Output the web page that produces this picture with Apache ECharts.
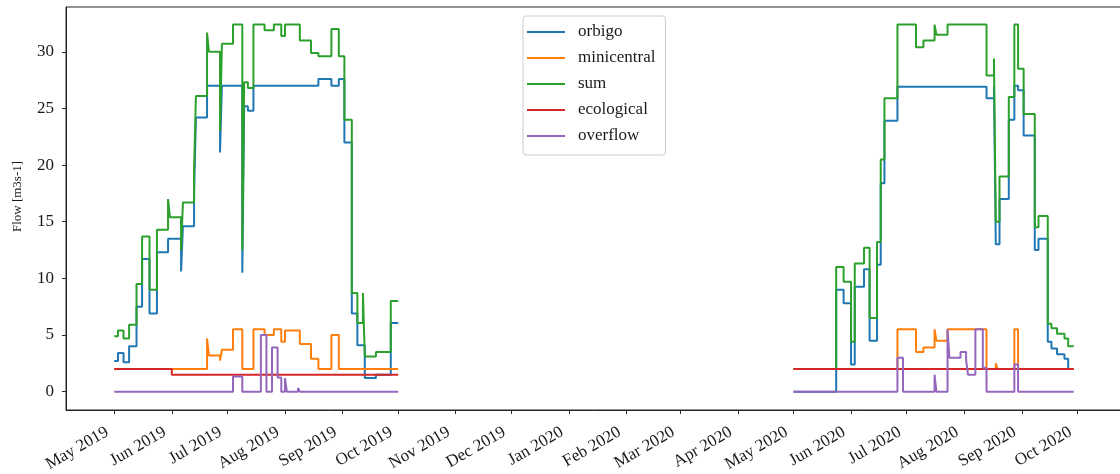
<!DOCTYPE html>
<html lang="en">
  <head>
    <meta charset="UTF-8" />
    <meta name="viewport" content="width=device-width, initial-scale=1.0" />
    <title>Flow</title>
    <style>
      html,
      body {
        margin: 0;
        padding: 0;
        background: #fff;
      }
    </style>
  </head>
  <body>
    <div id="main" style="width: 1120px; height: 474px"></div>

    <script src="https://cdn.jsdelivr.net/npm/echarts@6.0.0/dist/echarts.min.js"></script>
    <script>
      // =====数据=====
      const seriesNames = ['orbigo', 'minicentral', 'sum', 'ecological', 'overflow']
      const monthNames = ['Jan', 'Feb', 'Mar', 'Apr', 'May', 'Jun', 'Jul', 'Aug', 'Sep', 'Oct', 'Nov', 'Dec']
      const monthTicks = [
        '2019-05-01', '2019-06-01', '2019-07-01', '2019-08-01', '2019-09-01', '2019-10-01',
        '2019-11-01', '2019-12-01', '2020-01-01', '2020-02-01', '2020-03-01', '2020-04-01',
        '2020-05-01', '2020-06-01', '2020-07-01', '2020-08-01', '2020-09-01', '2020-10-01'
      ]
      const yTicks = [0, 5, 10, 15, 20, 25, 30]

      // each row: [date the value starts, value]
      const orbigo2019 = [
        ['2019-05-01', 2.7], ['2019-05-03', 3.4], ['2019-05-06', 2.6], ['2019-05-09', 4.0],
        ['2019-05-13', 7.5], ['2019-05-16', 11.7], ['2019-05-20', 6.9], ['2019-05-24', 12.3],
        ['2019-05-30', 13.5], ['2019-06-06', 10.6], ['2019-06-07', 14.6], ['2019-06-13', 17.5],
        ['2019-06-14', 24.2], ['2019-06-20', 27.0], ['2019-06-27', 21.1], ['2019-06-28', 27.0],
        ['2019-07-09', 10.5], ['2019-07-10', 25.2], ['2019-07-12', 24.8], ['2019-07-15', 27.0],
        ['2019-08-19', 27.6], ['2019-08-26', 27.0], ['2019-08-30', 27.6], ['2019-09-02', 22.0],
        ['2019-09-06', 6.9], ['2019-09-09', 4.1], ['2019-09-13', 1.2], ['2019-09-19', 1.5],
        ['2019-09-27', 6.05], ['2019-10-01', 6.05]
      ]
      const orbigo2020 = [
        ['2020-05-01', 0], ['2020-05-24', 9.0], ['2020-05-28', 7.8], ['2020-06-01', 2.4],
        ['2020-06-03', 9.25], ['2020-06-08', 10.8], ['2020-06-11', 4.5], ['2020-06-15', 11.2],
        ['2020-06-17', 18.4], ['2020-06-19', 23.9], ['2020-06-26', 26.9], ['2020-08-13', 25.9],
        ['2020-08-17', 27.0], ['2020-08-18', 13.0], ['2020-08-20', 17.0], ['2020-08-25', 24.0],
        ['2020-08-28', 27.0], ['2020-08-30', 26.6], ['2020-09-02', 22.6], ['2020-09-08', 12.5],
        ['2020-09-10', 13.5], ['2020-09-15', 4.4], ['2020-09-17', 3.8], ['2020-09-20', 3.3],
        ['2020-09-24', 2.9], ['2020-09-26', 2.0], ['2020-09-29', 2.0]
      ]

      const mini2019 = [
        ['2019-05-01', 2.0], ['2019-06-20', 4.7], ['2019-06-21', 3.2], ['2019-06-27', 2.75],
        ['2019-06-28', 3.7], ['2019-07-04', 5.5], ['2019-07-09', 2.0], ['2019-07-15', 5.5],
        ['2019-07-21', 5.0], ['2019-07-26', 5.5], ['2019-07-30', 4.4], ['2019-08-01', 5.4],
        ['2019-08-09', 4.2], ['2019-08-15', 2.9], ['2019-08-19', 2.0], ['2019-08-26', 5.0],
        ['2019-08-30', 2.0], ['2019-10-01', 2.0]
      ]
      const mini2020 = [
        ['2020-05-01', 2.0], ['2020-06-26', 5.5], ['2020-07-06', 3.5], ['2020-07-10', 3.9],
        ['2020-07-16', 5.5], ['2020-07-17', 4.5], ['2020-07-23', 5.5], ['2020-08-13', 2.0],
        ['2020-08-18', 2.5], ['2020-08-19', 2.0], ['2020-08-28', 5.5], ['2020-08-30', 2.0],
        ['2020-09-29', 2.0]
      ]

      const sum2019 = [
        ['2019-05-01', 4.9], ['2019-05-03', 5.4], ['2019-05-06', 4.7], ['2019-05-09', 5.9],
        ['2019-05-13', 9.5], ['2019-05-16', 13.7], ['2019-05-20', 9.0], ['2019-05-24', 14.3],
        ['2019-05-30', 17.0], ['2019-05-31', 15.4], ['2019-06-06', 12.5], ['2019-06-07', 16.7],
        ['2019-06-13', 19.5], ['2019-06-14', 26.1], ['2019-06-20', 31.7], ['2019-06-21', 30.0],
        ['2019-06-27', 23.0], ['2019-06-28', 30.7], ['2019-07-04', 32.4], ['2019-07-09', 12.5],
        ['2019-07-10', 27.3], ['2019-07-12', 26.8], ['2019-07-15', 32.4], ['2019-07-21', 31.9],
        ['2019-07-26', 32.4], ['2019-07-30', 31.4], ['2019-08-01', 32.4], ['2019-08-09', 31.0],
        ['2019-08-15', 29.9], ['2019-08-19', 29.6], ['2019-08-26', 32.0], ['2019-08-30', 29.6],
        ['2019-09-02', 24.0], ['2019-09-06', 8.7], ['2019-09-09', 6.05], ['2019-09-12', 8.7],
        ['2019-09-13', 3.1], ['2019-09-19', 3.5], ['2019-09-27', 8.0], ['2019-10-01', 8.0]
      ]
      const sum2020 = [
        ['2020-05-01', 2.0], ['2020-05-24', 11.0], ['2020-05-28', 9.7], ['2020-06-01', 4.4],
        ['2020-06-03', 11.3], ['2020-06-08', 12.7], ['2020-06-11', 6.5], ['2020-06-15', 13.2],
        ['2020-06-17', 20.5], ['2020-06-19', 25.9], ['2020-06-26', 32.4], ['2020-07-06', 30.4],
        ['2020-07-10', 31.0], ['2020-07-16', 32.4], ['2020-07-17', 31.5], ['2020-07-23', 32.4],
        ['2020-08-13', 27.9], ['2020-08-17', 29.4], ['2020-08-18', 15.0], ['2020-08-20', 19.0],
        ['2020-08-25', 26.0], ['2020-08-28', 32.4], ['2020-08-30', 28.5], ['2020-09-02', 24.5],
        ['2020-09-08', 14.5], ['2020-09-10', 15.5], ['2020-09-15', 6.0], ['2020-09-17', 5.6],
        ['2020-09-20', 5.1], ['2020-09-24', 4.7], ['2020-09-26', 4.0], ['2020-09-29', 4.0]
      ]

      const eco2019 = [['2019-05-01', 2.0], ['2019-06-01', 1.5], ['2019-10-01', 1.5]]
      const eco2020 = [['2020-05-01', 2.0], ['2020-09-29', 2.0]]

      const overflow2019 = [
        ['2019-05-01', 0], ['2019-07-04', 1.33], ['2019-07-09', 0], ['2019-07-19', 5.0],
        ['2019-07-22', 0], ['2019-07-25', 3.9], ['2019-07-28', 1.25], ['2019-07-30', 0],
        ['2019-08-01', 1.2], ['2019-08-02', 0], ['2019-08-08', 0.33], ['2019-08-09', 0],
        ['2019-10-01', 0]
      ]
      const overflow2020 = [
        ['2020-05-01', 0], ['2020-06-26', 3.0], ['2020-06-29', 0], ['2020-07-16', 1.5],
        ['2020-07-17', 0], ['2020-07-23', 5.5], ['2020-07-24', 3.0], ['2020-07-30', 3.5],
        ['2020-08-02', 2.8], ['2020-08-03', 1.5], ['2020-08-07', 5.5], ['2020-08-11', 2.1],
        ['2020-08-13', 0], ['2020-08-28', 2.4], ['2020-08-30', 0], ['2020-09-29', 0]
      ]
      // =====数据=====

      window.onload = function () {
        const myChart = echarts.init(document.getElementById('main'))

        // 'YYYY-MM-DD' -> local timestamp
        const toTime = s => {
          const p = s.split('-').map(Number)
          return new Date(p[0], p[1] - 1, p[2]).getTime()
        }
        const toPoints = rows => rows.map(r => [toTime(r[0]), r[1]])

        // one [2019, 2020] pair per legend name, same order as seriesNames
        const seasons = [
          [orbigo2019, orbigo2020],
          [mini2019, mini2020],
          [sum2019, sum2020],
          [eco2019, eco2020],
          [overflow2019, overflow2020]
        ]
        const palette = ['#1f77b4', '#ff7f0e', '#2ca02c', '#d62728', '#9467bd']

        const font = 'Liberation Serif'
        const textColor = '#1a1a1a'
        const tickTimes = monthTicks.map(toTime)

        // each season is its own series; both share the legend name
        const series = []
        seriesNames.forEach((name, i) => {
          seasons[i].forEach(rows => {
            series.push({
              name: name,
              type: 'line',
              step: 'end',
              showSymbol: false,
              itemStyle: { color: palette[i] },
              lineStyle: { width: 2, color: palette[i] },
              data: toPoints(rows)
            })
          })
        })

        const option = {
          animation: false,
          grid: {
            left: 66,
            top: 7,
            right: -2,
            bottom: 64,
            outerBoundsMode: 'none',
            show: true,
            borderColor: '#262626',
            borderWidth: 1
          },
          legend: {
            orient: 'vertical',
            left: 523,
            top: 16,
            padding: [7, 10, 10, 4],
            itemWidth: 38,
            itemHeight: 2,
            itemGap: 8,
            icon: 'rect',
            backgroundColor: 'rgba(255,255,255,0.8)',
            borderColor: '#cccccc',
            borderWidth: 1,
            borderRadius: 3,
            data: seriesNames,
            textStyle: {
              fontFamily: font,
              fontSize: 17,
              color: textColor,
              lineHeight: 18,
              padding: [0, 0, 0, 8]
            }
          },
          // dates as timestamps on a value axis, labelled on the 1st of each month
          xAxis: {
            type: 'value',
            min: toTime('2019-04-05'),
            max: toTime('2020-10-25'),
            splitLine: { show: false },
            axisLine: { onZero: false, lineStyle: { color: '#262626', width: 1 } },
            axisTick: {
              customValues: tickTimes,
              length: 4,
              lineStyle: { color: '#262626' }
            },
            axisLabel: {
              customValues: tickTimes,
              rotate: 30,
              margin: 17,
              padding: [0, 8, 0, 0],
              fontFamily: font,
              fontSize: 17,
              color: textColor,
              formatter: function (v) {
                const d = new Date(v)
                return monthNames[d.getMonth()] + ' ' + d.getFullYear()
              }
            }
          },
          yAxis: {
            type: 'value',
            min: -1.62,
            max: 33.95,
            name: 'Flow [m3s-1]',
            nameLocation: 'middle',
            nameGap: 42,
            nameTextStyle: {
              fontFamily: font,
              fontSize: 13,
              color: textColor,
              padding: [0, 0, 0, 24]
            },
            splitLine: { show: false },
            axisLine: { show: true, onZero: false, lineStyle: { color: '#262626', width: 1 } },
            axisTick: {
              show: true,
              customValues: yTicks,
              length: 4,
              lineStyle: { color: '#262626' }
            },
            axisLabel: {
              customValues: yTicks,
              margin: 12,
              fontFamily: font,
              fontSize: 17,
              color: textColor
            }
          },
          series: series
        }

        myChart.setOption(option)
      }
    </script>
  </body>
</html>
